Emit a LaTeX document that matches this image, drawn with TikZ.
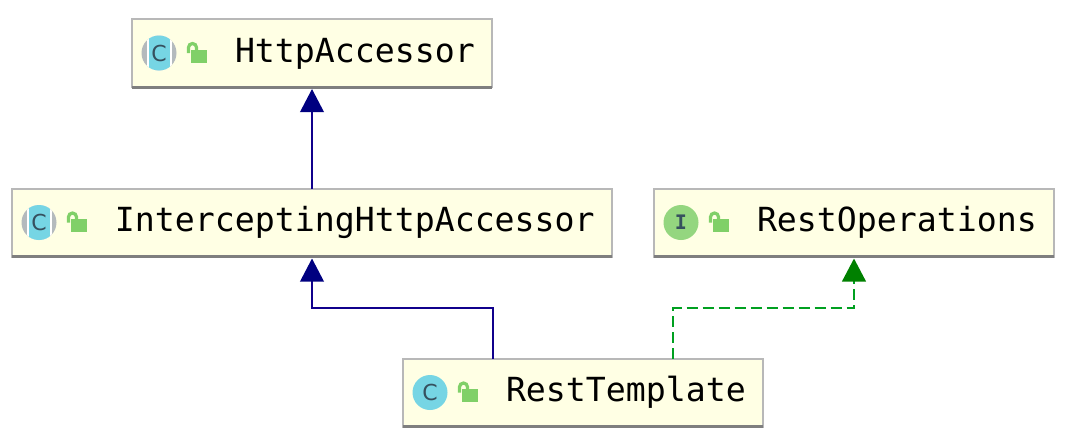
\documentclass[tikz,border=0pt]{standalone}
\usepackage{fontspec}
\setmonofont{DejaVu Sans Mono}
\newfontfamily\glyphfont{DejaVu Sans}
\usetikzlibrary{arrows.meta,calc}
\definecolor{boxfill}{HTML}{FFFFE4}
\definecolor{boxedge}{HTML}{B8B8B8}
\definecolor{boxfoot}{HTML}{7F7F7F}
\definecolor{classcyan}{HTML}{76D5E4}
\definecolor{classgray}{HTML}{B4BABD}
\definecolor{glyphdark}{HTML}{36505E}
\definecolor{ifacegreen}{HTML}{94D67F}
\definecolor{lockgreen}{HTML}{80D068}
\definecolor{extendsblue}{HTML}{10008C}
\definecolor{tipblue}{HTML}{000080}
\definecolor{implementsgreen}{HTML}{00A020}
\definecolor{tipgreen}{HTML}{008000}
\tikzset{
  umlbox/.style={draw=boxedge,line width=2pt,fill=boxfill,minimum height=68pt,inner xsep=0pt,
    inner ysep=0pt,outer sep=0pt,align=left,text height=27pt,text depth=9pt,
    font=\ttfamily\fontsize{33.2}{36}\selectfont},
  icon/.style={circle,minimum size=35pt,inner sep=0pt,fill=#1},
  glyph/.style={font=\glyphfont\fontsize{22}{22}\selectfont,text=glyphdark,inner sep=0pt},
  extends/.style={draw=extendsblue,line width=2pt,shorten >=2pt,
    -{Triangle[length=23pt,width=23.5pt,color=tipblue]}},
  implements/.style={draw=implementsgreen,line width=2.5pt,dash pattern=on 11pt off 5pt,shorten >=2pt,
    -{Triangle[length=23pt,width=23.5pt,color=tipgreen]}},
  pics/openlock/.style={code={
    \fill[lockgreen] (3,-2.5) rectangle (19,10.5);
    \draw[lockgreen,line width=3.2pt] (0.5,1) -- (0.5,-4.5) arc[start angle=180,end angle=0,radius=4pt] -- (8.5,-2);
  }},
}
\begin{document}
\begin{tikzpicture}[x=1pt,y=-1pt]
\useasboundingbox (0,0) rectangle (1066,442);
\node[umlbox,text width=360pt] (accessor) at (312,53) {\hspace*{103pt}HttpAccessor};
\node[umlbox,text width=600pt] (intercepting) at (312,222.5) {\hspace*{103pt}InterceptingHttpAccessor};
\node[umlbox,text width=400pt] (operations) at (854,222.5) {\hspace*{103pt}RestOperations};
\node[umlbox,text width=360pt] (template) at (583,392.5) {\hspace*{103pt}RestTemplate};
\foreach \n in {accessor,intercepting,operations,template}
  \draw[boxfoot,line width=3pt] (\n.south west) -- (\n.south east);
\coordinate (tmplLeft) at ($(template.north west)!.25!(template.north east)$);
\coordinate (tmplRight) at ($(template.north west)!.75!(template.north east)$);
\draw[extends] (intercepting.north) -- (accessor.south);
\draw[extends] (tmplLeft) -- ++(0,-50.5) -| (intercepting.south);
\draw[implements] (tmplRight) -- ++(0,-50.5) -| (operations.south);
% icons
\foreach \n/\ico in {accessor/iconA,intercepting/iconB}{
  \begin{scope}
    \node[icon=classgray] (\ico) at ($(\n.west)+(27,0)$) {};
    \clip (\ico) circle (17.5);
    \fill[white] ($(\ico)+(-12.5,-18)$) rectangle ($(\ico)+(12.5,18)$);
    \fill[classcyan] ($(\ico)+(-10.5,-18)$) rectangle ($(\ico)+(10.5,18)$);
  \end{scope}
  \node[glyph] at (\ico) {C};
}
\node[icon=classcyan] (iconC) at ($(template.west)+(27,0)$) {};
\node[glyph] at (iconC) {C};
\node[icon=ifacegreen] (iconD) at ($(operations.west)+(27,0)$) {};
\node[glyph,font=\ttfamily\bfseries\fontsize{20}{20}\selectfont] at (iconD) {I};
\foreach \n in {accessor,intercepting,operations,template}
  \pic at ($(\n.west)+(56,-1)$) {openlock};
\end{tikzpicture}
\end{document}
